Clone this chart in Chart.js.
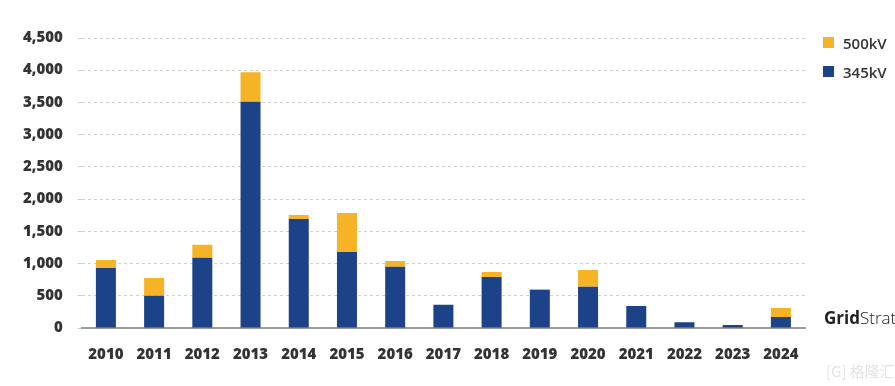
<!DOCTYPE html>
<html>
<head>
<meta charset="utf-8">
<script src="https://cdn.jsdelivr.net/npm/chart.js@4"></script>
<style>
    html, body { margin: 0; padding: 0; background: #fff; overflow: hidden; }
    #wrap { position: relative; width: 895px; height: 386px; font-family: 'Open Sans', sans-serif; }
    #legend { position: absolute; left: 823px; top: 28px; color: #333; font-size: 15px; font-weight: 600; }
    #legend div { height: 29px; display: flex; align-items: center; }
    #legend span.sw { display: inline-block; width: 11px; height: 11px; margin-right: 9px; }
    #brand { position: absolute; left: 824px; top: 306px; font-size: 17px; color: #222; white-space: nowrap; }
    #brand b { font-weight: 700; }
    #brand span { font-weight: 300; }
    #mark { position: absolute; left: 826px; top: 360px; font-size: 15px; color: #e4e4e4; font-family: 'Noto Sans CJK SC', sans-serif; }
</style>
</head>
<body>
<div id="wrap">
    <canvas id="mainChart" width="895" height="386"></canvas>
    <div id="legend"></div>
    <div id="brand"><b>Grid</b><span>Strategies</span></div>
    <div id="mark">[G] 格隆汇</div>
</div>
<script>
// ===== DATA =====
const years = ['2010', '2011', '2012', '2013', '2014', '2015', '2016', '2017',
    '2018', '2019', '2020', '2021', '2022', '2023', '2024'];
const kv345 = [930, 500, 1090, 3510, 1690, 1180, 950, 360, 790, 590, 640, 340, 90, 45, 170];
const kv500 = [125, 275, 200, 460, 65, 605, 90, 0, 80, 15, 260, 0, 0, 0, 140];
const yTicks = [0, 500, 1000, 1500, 2000, 2500, 3000, 3500, 4000, 4500];

const BLUE = '#1c4388';
const YELLOW = '#f5b325';

// ===== LEGEND (HTML) =====
const legendEl = document.getElementById('legend');
[['500kV', YELLOW], ['345kV', BLUE]].forEach(([name, col]) => {
    const row = document.createElement('div');
    row.innerHTML = '<span class="sw" style="background:' + col + '"></span>' + name;
    legendEl.appendChild(row);
});

// ===== MAIN CHART =====
const mainCtx = document.getElementById('mainChart');
new Chart(mainCtx, {
    type: 'bar',
    data: {
        labels: years,
        datasets: [
            {
                label: '345kV',
                data: kv345,
                backgroundColor: BLUE,
                barPercentage: 0.83,
                categoryPercentage: 0.5
            },
            {
                label: '500kV',
                data: kv500,
                backgroundColor: YELLOW,
                barPercentage: 0.83,
                categoryPercentage: 0.5
            }
        ]
    },
    options: {
        responsive: false,
        animation: false,
        layout: { padding: { top: 38, right: 90, bottom: 12, left: 8 } },
        plugins: {
            legend: { display: false },
            tooltip: { enabled: false }
        },
        scales: {
            x: {
                stacked: true,
                grid: { display: false },
                border: { display: true, color: '#9c9c9c', width: 2 },
                ticks: {
                    color: '#333',
                    padding: 10,
                    font: { family: 'Open Sans', size: 15, weight: '800' }
                }
            },
            y: {
                stacked: true,
                min: 0,
                max: 4500,
                afterBuildTicks: (axis) => { axis.ticks = yTicks.map(v => ({ value: v })); },
                grid: { color: '#d0d0d0', tickLength: 4, drawTicks: true },
                border: { display: false, dash: [3, 3] },
                ticks: {
                    color: '#333',
                    padding: 15,
                    font: { family: 'Open Sans', size: 15, weight: '800' },
                    callback: (v) => v.toLocaleString('en-US')
                }
            }
        }
    }
});
</script>
</body>
</html>
